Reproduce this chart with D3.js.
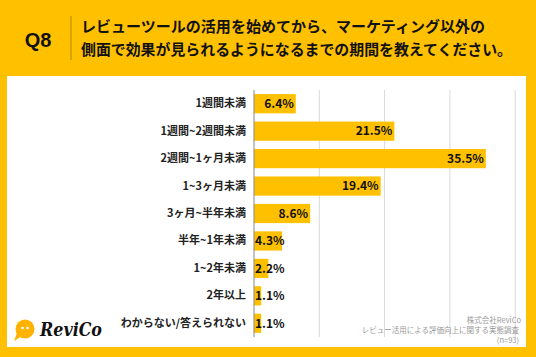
<!DOCTYPE html>
<html><head><meta charset="utf-8">
<script src="https://cdn.jsdelivr.net/npm/d3@7"></script>
<style>
html,body{margin:0;padding:0;background:#FFC000;}
svg{display:block;}
text{font-family:"Noto Sans CJK JP","Noto Sans",sans-serif;}
</style></head>
<body><svg id="c" width="536" height="357"></svg>
<script>
const categories = ["1週間未満","1週間~2週間未満","2週間~1ヶ月未満","1~3ヶ月未満","3ヶ月~半年未満","半年~1年未満","1~2年未満","2年以上","わからない/答えられない"];
const values = [6.4,21.5,35.5,19.4,8.6,4.3,2.2,1.1,1.1];
const gridTicks = [10,20,30,40];
const titleLines = ["レビューツールの活用を始めてから、マーケティング以外の","側面で効果が見られるようになるまでの期間を教えてください。"];
const sourceLines = ["株式会社ReviCo","レビュー活用による評価向上に関する実態調査","(n=93)"];

const svg = d3.select("#c");
const yellow = "#FFC000";

svg.append("rect").attr("x",0).attr("y",0).attr("width",536).attr("height",357).attr("fill",yellow);
svg.append("rect").attr("x",7).attr("y",76).attr("width",519).attr("height",271).attr("fill","#fff");

// header
svg.append("text").attr("x",38).attr("y",47).attr("text-anchor","middle")
  .attr("font-size",20).attr("font-weight","bold").attr("fill","#111")
  .style("font-family",'"Liberation Sans",Arial,sans-serif').text("Q8");
svg.append("line").attr("x1",71).attr("x2",71).attr("y1",16).attr("y2",60)
  .attr("stroke","#b08a00").attr("stroke-width",1);
svg.selectAll(".title").data(titleLines).join("text").attr("class","title")
  .attr("x",81).attr("y",(d,i)=>32+i*23)
  .attr("font-size",15).attr("font-weight","bold").attr("fill","#111")
  .attr("textLength",(d,i)=>i===0?404:431).attr("lengthAdjust","spacingAndGlyphs")
  .text(d=>d);

const x = d3.scaleLinear().domain([0,40]).range([254,515.2]);
const y = d3.scaleBand().domain(categories).range([90,337]).paddingInner(0.3).paddingOuter(0.15);

// grid
svg.append("g").selectAll("line").data(gridTicks).join("line")
  .attr("x1",d=>x(d)).attr("x2",d=>x(d)).attr("y1",90).attr("y2",337)
  .attr("stroke","#d9d9d9").attr("stroke-width",1);

// bars
svg.append("g").selectAll("rect").data(values).join("rect")
  .attr("x",x(0)).attr("y",(d,i)=>y(categories[i]))
  .attr("width",d=>x(d)-x(0)).attr("height",y.bandwidth()).attr("fill",yellow);

// axis line
const yAxis = svg.append("g").attr("transform",`translate(${x(0)},0)`).call(d3.axisLeft(y).tickSize(0).tickPadding(8));
yAxis.select(".domain").attr("stroke","#888").attr("d",`M0,90V337`);
yAxis.selectAll("text").attr("font-size",11).attr("font-weight","bold").attr("fill","#222")
  .attr("font-family",'"Noto Sans CJK JP","Noto Sans",sans-serif');

// value labels
const vl = svg.append("g").selectAll("text").data(values).join("text")
  .attr("y",(d,i)=>y(categories[i])+y.bandwidth()/2)
  .attr("dy","0.36em").attr("text-anchor","end")
  .attr("font-size",12).attr("font-weight","bold").attr("fill","#111")
  .text(d=>d.toFixed(1)+"%");
vl.each(function(d){
  const w = this.getComputedTextLength();
  const xe = Math.max(x(d)-2, x(0)+1+w);
  d3.select(this).attr("x",xe);
});

// source
svg.selectAll(".src").data(sourceLines).join("text").attr("class","src")
  .attr("x",(d,i)=>i===0?521:519).attr("y",(d,i)=>323+i*10).attr("text-anchor","end")
  .attr("font-size",7.5).attr("fill","#999").text(d=>d);

// logo
const lg = svg.append("g");
lg.append("circle").attr("cx",25).attr("cy",329).attr("r",9.5).attr("fill","#FFB300");
lg.append("path").attr("d","M17,333 L14,341 L22,336 Z").attr("fill","#FFB300");
lg.append("circle").attr("cx",22.5).attr("cy",328).attr("r",1.3).attr("fill","#fff");
lg.append("circle").attr("cx",27.5).attr("cy",328).attr("r",1.3).attr("fill","#fff");
lg.append("text").attr("x",40).attr("y",336).attr("font-size",18).attr("font-weight","bold")
  .attr("font-style","italic").attr("fill","#111")
  .attr("textLength",62).attr("lengthAdjust","spacingAndGlyphs")
  .style("font-family",'"DejaVu Serif",serif').text("ReviCo");
</script></body></html>
